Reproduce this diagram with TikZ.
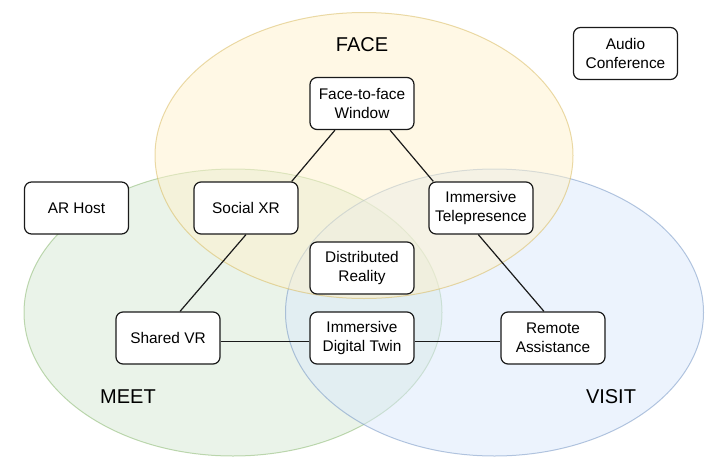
\documentclass[tikz,border=0pt]{standalone}
\usepackage{fontspec}
\setmainfont{Liberation Sans}
\usetikzlibrary{calc}
\definecolor{faceFill}{HTML}{FFF2CC}
\definecolor{faceLine}{HTML}{D6B656}
\definecolor{meetFill}{HTML}{D5E8D4}
\definecolor{meetLine}{HTML}{82B366}
\definecolor{visitFill}{HTML}{DAE8FC}
\definecolor{visitLine}{HTML}{6C8EBF}
\definecolor{boxLine}{HTML}{1A1A1A}
\tikzset{
  region/.style={line width=1pt, fill opacity=0.5, draw opacity=0.5},
  tech/.style={draw=boxLine, line width=1.2pt, fill=white, rounded corners=7pt,
    minimum width=104pt, minimum height=52pt, inner sep=0pt, align=center,
    font=\fontsize{15.4}{19.5}\selectfont},
  setlabel/.style={font=\fontsize{20}{24}\selectfont, inner sep=0pt},
  link/.style={draw=boxLine, line width=1.2pt}
}
\begin{document}
\begin{tikzpicture}[x=1pt,y=-1pt]
\useasboundingbox (0,0) rectangle (728,474);
% regions
\path[region, fill=meetFill, draw=meetLine] (233,312.5) ellipse [x radius=209, y radius=143.5];
\path[region, fill=visitFill, draw=visitLine] (494.5,312.5) ellipse [x radius=209, y radius=143.5];
\path[region, fill=faceFill, draw=faceLine] (364,155.5) ellipse [x radius=209, y radius=143];
% set labels
\node[setlabel] (face) at (362,45) {FACE};
\node[setlabel] (meet) at (128,397) {MEET};
\node[setlabel] (visit) at (611,397) {VISIT};
% technology boxes
\node[tech] (ftf) at (362,103.5) {Face-to-face\\Window};
\node[tech] (audio) at (625.5,53.5) {Audio\\Conference};
\node[tech] (arh) at (76.5,208) {AR Host};
\node[tech] (soc) at (246,208) {Social XR};
\node[tech] (tel) at (481,208) {Immersive\\Telepresence};
\node[tech] (dist) at (362,268) {Distributed\\Reality};
\node[tech] (svr) at (168,338) {Shared VR};
\node[tech] (idt) at (362,338) {Immersive\\Digital Twin};
\node[tech] (ra) at (553,338) {Remote\\Assistance};
% connectors
\draw[link] ($(ftf.south)+(-27,0)$) -- ($(soc.north)+(45.7,0)$);
\draw[link] ($(ftf.south)+(28,0)$) -- ($(tel.north)+(-47.7,0)$);
\draw[link] (soc.south) -- ($(svr.north)+(12,0)$);
\draw[link] ($(tel.south)+(-2.7,0)$) -- ($(ra.north)+(-9,0)$);
\draw[link] ($(svr.east)+(0,3.5)$) -- ($(idt.west)+(0,3.5)$);
\draw[link] ($(idt.east)+(0,3.5)$) -- ($(ra.west)+(0,3.5)$);
\end{tikzpicture}
\end{document}
